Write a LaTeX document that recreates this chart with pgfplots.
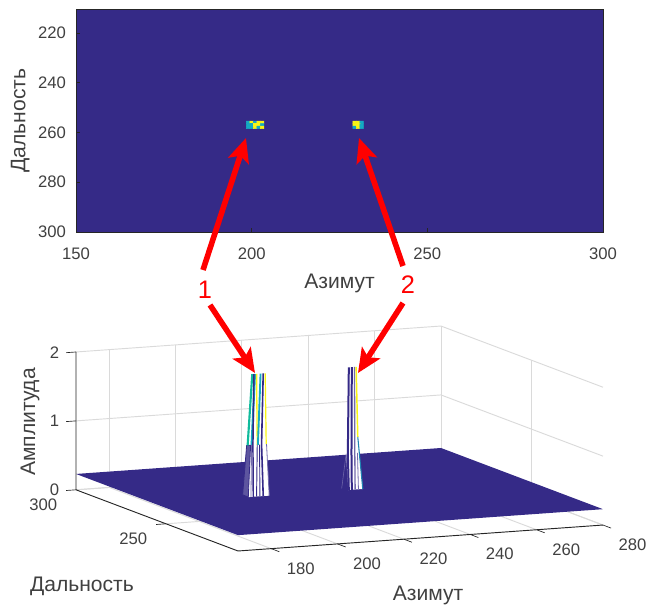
\documentclass[border=0pt]{standalone}
\usepackage{pgfplots}
\usepackage{fontspec}
\setmainfont{Liberation Sans}
\pgfplotsset{compat=1.18}
\usetikzlibrary{arrows.meta}
\definecolor{pnavy}{RGB}{53,42,135}
\definecolor{pteal}{RGB}{20,170,195}
\definecolor{pyel}{RGB}{249,245,20}
\definecolor{pgrid}{RGB}{218,218,218}
\definecolor{ptxt}{RGB}{64,64,64}
\definecolor{pax}{RGB}{38,38,38}
\pgfplotsset{
  colormap={par}{color(0)=(pnavy) color(0.5)=(pteal) color(1)=(pyel)},
  /pgf/number format/assume math mode=true,
  tick label style={font=\fontsize{12.5pt}{14pt}\selectfont, text=ptxt},
}
\newcommand{\lab}{\fontsize{15.8pt}{18pt}\selectfont}
\tikzset{redarrow/.style={draw=red,line width=4.2pt,-{Stealth[length=18pt,width=16pt,inset=4pt]}}}
\begin{document}
\begin{tikzpicture}
\path[use as bounding box] (0,0) rectangle (486.75pt,453.75pt);
% top image
\begin{axis}[
  at={(57pt,279.75pt)}, anchor=south west, scale only axis,
  width=395.25pt, height=167.25pt,
  xmin=150, xmax=300, ymin=210.4, ymax=300, y dir=reverse,
  xtick={150,200,250,300}, ytick={220,240,260,280,300},
  axis background/.style={fill=pnavy},
  axis line style={pax,line width=0.4pt},
  tick style={pax,line width=0.4pt}, tick align=inside, major tick length=3pt,
  axis on top, tick pos=left,
  point meta min=0, point meta max=1,
  xticklabel style={yshift=-8pt},
  yticklabel style={xshift=-4pt},
  xlabel={\lab Азимут}, ylabel={\lab Дальность},
  x label style={at={(axis description cs:0.5,-0.229)},anchor=center,text=ptxt},
  y label style={at={(axis description cs:-0.106,0.5)},anchor=center,rotate=0,text=ptxt},
]
\addplot[matrix plot*, mesh/cols=5, point meta=explicit] table[meta=c] {
x y c
199 256 0.5
200 256 1
201 256 0.5
202 256 1
203 256 1
199 257 0.5
200 257 0.5
201 257 1
202 257 1
203 257 0.5
199 258 0.5
200 258 0.5
201 258 1
202 258 0.5
203 258 1
};
\addplot[matrix plot*, mesh/cols=3, point meta=explicit] table[meta=c] {
x y c
229.3 256 1
230.3 256 1
231.3 256 0.5
229.3 257 1
230.3 257 1
231.3 257 0.5
229.3 258 0.5
230.3 258 1
231.3 258 0.5
};
\end{axis}
% 3D
\begin{axis}[
  at={(57pt,40.5pt)}, anchor=south west,
  x={(2.4885pt,0.177pt)}, y={(-1.35pt,0.51pt)}, z={(0pt,51.68pt)},
  xmin=170, xmax=280, ymin=210, ymax=300, zmin=0, zmax=2,
  xtick={180,200,...,280}, ytick={250,300}, ztick={0,1,2},
  grid=major, grid style={pgrid,line width=0.7pt},
  axis line style={draw=none},
  tick style={draw=none}, major tick length=5pt,
  tick align=outside, tick pos=left,
  clip=false,
  xticklabel style={anchor=center,xshift=17.5pt,yshift=-13pt},
  yticklabel style={anchor=center,xshift=-19.5pt,yshift=-10.5pt},
  zticklabel style={anchor=center,xshift=-11.5pt,yshift=-2pt},
]
\addplot3[fill=pnavy,draw=none] coordinates {(170,210,0.23) (280,210,0.23) (280,300,0.23) (170,300,0.23) (170,210,0.23)};
% spike 1
\addplot3[fill=white,draw=none] coordinates {(198.6,257,0.22) (204.9,257,0.22) (204.1,257,0.97) (203.8,257,2) (199.8,257,2) (198.3,257,0.97) (198.6,257,0.22)};
\addplot3[fill=pnavy!80,draw=pnavy,line width=0.6pt] coordinates {(196.9,257,0.26) (198.1,257,0.97) (199.3,257,0.97) (198.6,257,0.22) (196.9,257,0.26)};
\addplot3[pteal!80!green,line width=1.6pt] coordinates {(199.8,257,2) (198.4,257,0.97)};
\addplot3[pteal,line width=1.6pt] coordinates {(200.6,257,2) (199.6,257,0.97)};
\addplot3[pnavy,line width=1.1pt] coordinates {(200.3,257,2) (200,257,0.97) (200.1,257,0.22)};
\addplot3[pyel,line width=1pt] coordinates {(201.1,257,2) (201.3,257,0.97)};
\addplot3[pteal,line width=1.4pt] coordinates {(202.3,257,2) (201.5,257,0.97)};
\addplot3[pnavy,line width=1.2pt] coordinates {(203.1,257,2) (202.6,257,0.97) (203.1,257,0.22)};
\addplot3[pyel,line width=0.9pt] coordinates {(203.7,257,2) (204,257,0.97)};
\addplot3[pnavy,line width=0.7pt] coordinates {(201.3,257,0.97) (201.1,257,0.22)};
\addplot3[pnavy,line width=0.7pt] coordinates {(202,257,0.97) (202.1,257,0.22)};
\addplot3[pnavy!70,line width=0.6pt] coordinates {(204.1,257,0.97) (204.9,257,0.22)};
\addplot3[pnavy!70,line width=0.6pt] coordinates {(199.6,257,0.97) (199.4,257,0.22)};
% spike 2
\addplot3[fill=white,draw=none] coordinates {(228.8,257,0.22) (233.1,257,0.22) (232.3,257,0.6) (231.6,257,0.98) (231.3,257,2) (228.8,257,2) (228.1,257,0.75) (228.8,257,0.22)};
\addplot3[pnavy!70,line width=0.4pt] coordinates {(226.75,257,0.25) (228.1,257,0.75) (228.8,257,0.22)};
\addplot3[pnavy,line width=1.5pt] coordinates {(228.9,257,2) (228.6,257,0.75) (228.9,257,0.22)};
\addplot3[pnavy,line width=1.5pt] coordinates {(229.8,257,2) (229.7,257,0.75) (229.8,257,0.22)};
\addplot3[pnavy!70,line width=1pt] coordinates {(230.6,257,2) (230.7,257,0.75) (230.8,257,0.22)};
\addplot3[pyel,line width=1.1pt] coordinates {(231.1,257,2) (231.6,257,0.98)};
\addplot3[pteal!70!pnavy,line width=0.8pt] coordinates {(231.6,257,0.98) (233.1,257,0.22)};
\addplot3[pnavy!70,line width=0.6pt] coordinates {(231.5,257,0.75) (231.8,257,0.22)};
\draw[pax,line width=0.7pt] (axis cs:170,300,2) -- (axis cs:170,300,0) -- (axis cs:170,210,0) -- (axis cs:280,210,0);
% tick marks drawn along the box directions
\draw[pax,line width=0.5pt]
  (axis cs:180,210,0) -- (axis cs:180,205.5,0)
  (axis cs:200,210,0) -- (axis cs:200,205.5,0)
  (axis cs:220,210,0) -- (axis cs:220,205.5,0)
  (axis cs:240,210,0) -- (axis cs:240,205.5,0)
  (axis cs:260,210,0) -- (axis cs:260,205.5,0)
  (axis cs:280,210,0) -- (axis cs:280,205.5,0)
  (axis cs:170,250,0) -- (axis cs:167,250,0)
  (axis cs:170,300,0) -- (axis cs:167,300,0)
  (axis cs:170,300,1) -- (axis cs:167,300,1)
  (axis cs:170,300,2) -- (axis cs:167,300,2);
\end{axis}
\begin{scope}[x=0.75pt,y=-0.75pt,yshift=453.75pt]
\node[text=ptxt,font=\lab] at (428,595) {Азимут};
\node[text=ptxt,font=\lab] at (82,586) {Дальность};
\node[text=ptxt,font=\lab,rotate=90] at (30,422) {Амплитуда};
\draw[redarrow] (203,270) -- (246,138);
\draw[redarrow] (403,266) -- (359,138);
\draw[redarrow] (210,305) -- (255,373);
\draw[redarrow] (403,303) -- (358,373);
\node[text=red,font=\fontsize{19pt}{21pt}\selectfont] at (205,290) {1};
\node[text=red,font=\fontsize{19pt}{21pt}\selectfont] at (408,285) {2};
\end{scope}
\end{tikzpicture}
\end{document}
